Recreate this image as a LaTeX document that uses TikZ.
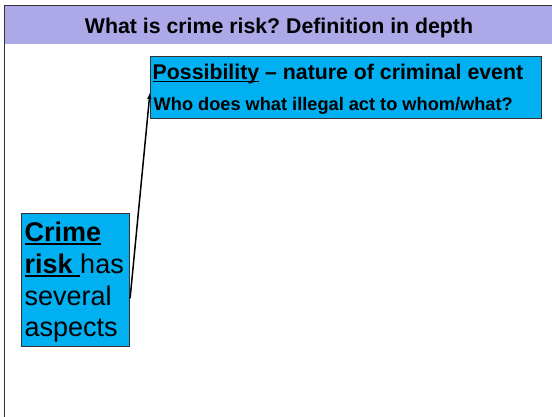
\documentclass[tikz,border=0pt]{standalone}
\usepackage{fontspec}
\setmainfont{Liberation Sans}
\frenchspacing
\usetikzlibrary{calc}
\usetikzlibrary{arrows.meta}
\definecolor{headlav}{RGB}{173,169,233}
\definecolor{boxcyan}{RGB}{0,176,240}
\newcommand{\ulin}[1]{\setbox0\hbox{#1}\rlap{\rule[-0.13em]{\wd0}{0.07em}}\box0\relax}
\tikzset{
  cyanbox/.style={draw=black!80, fill=boxcyan, line width=0.8pt, inner sep=0pt},
  arrowline/.style={-{Latex[length=7pt,width=4.5pt]}, line width=1.5pt},
}

\begin{document}
\begin{tikzpicture}[x=1pt,y=-1pt]
        \useasboundingbox (0,0) rectangle (552,417);

        % frame and header
        \fill[headlav] (4.5,6.5) rectangle (552,44.5);
        \draw[black!80, line width=1pt] (4.3,417) -- (4.3,6) -- (552,6);
        \node[anchor=base, inner sep=0pt, font=\bfseries\fontsize{21.3}{24}\selectfont] (title) at (279,33.3) {What is crime risk? Definition in depth};

        % possibility box
        \node[cyanbox, anchor=north west, minimum width=390.7pt, minimum height=62.3pt] (poss) at (150,56) {};
        \node[anchor=base west, inner sep=0pt, font=\bfseries\fontsize{21.3}{24}\selectfont] (posshead) at (152.5,79.3) {\ulin{Possibility} -- nature of criminal event};
        \node[anchor=base west, inner sep=0pt, font=\bfseries\fontsize{18.2}{22}\selectfont] (possq) at (153.5,111) {Who does what illegal act to whom/what?};

        % crime risk box
        \node[cyanbox, anchor=north west, minimum width=108pt, minimum height=133.3pt] (crime) at (21.3,212.7) {};
        \node[anchor=base west, inner sep=0pt, align=left, font=\fontsize{27}{31.7}\selectfont] (crimetext) at (24.5,336.8) {\ulin{\bfseries Crime}\\\ulin{\bfseries risk\ }has\\several\\aspects};

        \draw[arrowline] ([yshift=-18.6pt]crime.east) -- ([yshift=-36pt]poss.north west);

    \end{tikzpicture}
\end{document}
